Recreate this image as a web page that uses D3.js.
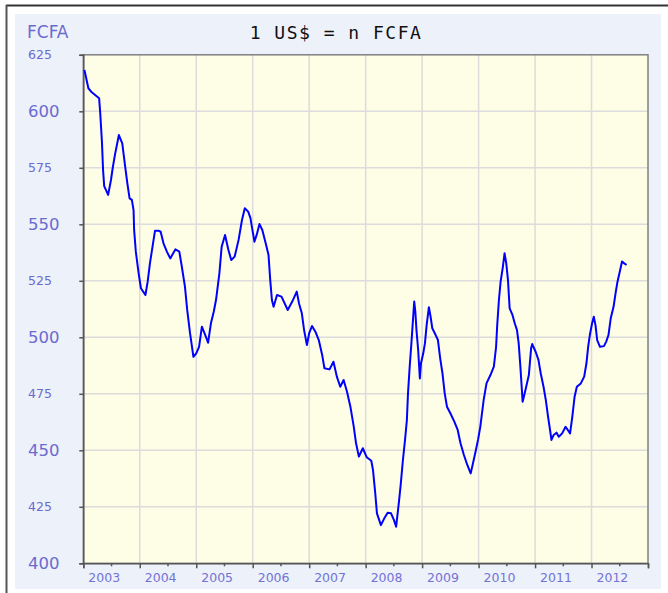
<!DOCTYPE html>
<html>
<head>
<meta charset="utf-8">
<script src="https://cdn.jsdelivr.net/npm/d3@7"></script>
<style>
  body { margin: 0; background: #fff; }
  svg { display: block; }
</style>
</head>
<body>
<div id="wrapper"></div>
<script>

// data: decimal year, FCFA per US$
const years = [
  2003.02, 2003.09, 2003.15, 2003.28, 2003.30, 2003.33, 2003.35, 2003.37, 2003.44, 2003.49,
  2003.52, 2003.56, 2003.63, 2003.69, 2003.74, 2003.78, 2003.82, 2003.86, 2003.89, 2003.90,
  2003.93, 2003.98, 2004.02, 2004.10, 2004.14, 2004.18, 2004.23, 2004.27, 2004.33, 2004.37,
  2004.42, 2004.48, 2004.54, 2004.63, 2004.70, 2004.74, 2004.80, 2004.84, 2004.89, 2004.95,
  2005.00, 2005.05, 2005.10, 2005.16, 2005.21, 2005.26, 2005.31, 2005.35, 2005.41, 2005.45,
  2005.51, 2005.57, 2005.62, 2005.68, 2005.75, 2005.81, 2005.86, 2005.92, 2005.96, 2006.03,
  2006.07, 2006.12, 2006.17, 2006.23, 2006.28, 2006.31, 2006.34, 2006.37, 2006.43, 2006.51,
  2006.62, 2006.70, 2006.78, 2006.82, 2006.87, 2006.91, 2006.96, 2007.00, 2007.05, 2007.11,
  2007.17, 2007.23, 2007.27, 2007.36, 2007.43, 2007.49, 2007.55, 2007.61, 2007.67, 2007.73,
  2007.79, 2007.83, 2007.88, 2007.95, 2008.02, 2008.10, 2008.13, 2008.17, 2008.20, 2008.27,
  2008.33, 2008.39, 2008.45, 2008.50, 2008.54, 2008.59, 2008.62, 2008.66, 2008.70, 2008.73,
  2008.75, 2008.78, 2008.81, 2008.83, 2008.86, 2008.88, 2008.90, 2008.93, 2008.96, 2008.98,
  2009.02, 2009.05, 2009.08, 2009.12, 2009.15, 2009.18, 2009.24, 2009.28, 2009.32, 2009.36,
  2009.40, 2009.44, 2009.50, 2009.57, 2009.63, 2009.68, 2009.74, 2009.80, 2009.86, 2009.90,
  2009.94, 2009.99, 2010.03, 2010.09, 2010.14, 2010.21, 2010.27, 2010.31, 2010.33, 2010.36,
  2010.39, 2010.43, 2010.46, 2010.49, 2010.52, 2010.55, 2010.60, 2010.64, 2010.68, 2010.71,
  2010.74, 2010.78, 2010.83, 2010.89, 2010.93, 2010.95, 2011.01, 2011.06, 2011.10, 2011.15,
  2011.19, 2011.23, 2011.27, 2011.29, 2011.33, 2011.38, 2011.42, 2011.48, 2011.54, 2011.58,
  2011.62, 2011.66, 2011.70, 2011.74, 2011.81, 2011.87, 2011.91, 2011.94, 2011.97, 2012.01,
  2012.04, 2012.07, 2012.10, 2012.15, 2012.22, 2012.26, 2012.30, 2012.34, 2012.39, 2012.43,
  2012.46, 2012.50, 2012.54, 2012.58, 2012.62,
]
const rates = [
  618.3, 610.2, 608.4, 605.8, 599.1, 586.5, 574.0, 566.9, 563.0, 569.6,
  574.8, 580.7, 589.5, 585.8, 575.8, 568.1, 561.5, 560.8, 556.3, 547.5,
  537.9, 528.3, 521.7, 518.7, 524.6, 532.7, 540.8, 547.2, 547.2, 546.7,
  541.6, 537.9, 534.9, 538.9, 537.9, 532.0, 522.4, 512.1, 501.8, 491.4,
  492.9, 495.8, 504.7, 501.0, 497.6, 506.2, 511.3, 516.5, 528.3, 540.1,
  545.3, 538.6, 534.2, 535.7, 543.1, 551.9, 557.1, 555.6, 552.7, 542.3,
  545.3, 550.1, 547.5, 541.6, 536.4, 525.4, 516.5, 513.5, 518.7, 518.0,
  512.1, 515.8, 520.2, 515.0, 510.6, 503.2, 496.6, 501.8, 505.0, 502.5,
  498.8, 492.2, 486.3, 485.8, 489.2, 482.6, 478.1, 481.1, 475.9, 469.3,
  460.4, 453.1, 447.2, 450.9, 446.9, 445.4, 441.3, 431.0, 422.1, 416.9,
  419.9, 422.4, 422.1, 419.2, 416.2, 427.3, 434.6, 445.7, 455.3, 463.4,
  475.2, 487.0, 497.3, 504.7, 515.8, 511.3, 503.2, 494.4, 481.8, 488.5,
  492.9, 497.3, 505.4, 513.3, 509.1, 504.0, 501.0, 498.8, 490.7, 484.1,
  475.2, 469.3, 466.4, 462.7, 459.0, 453.1, 447.9, 443.5, 439.8, 444.2,
  448.7, 454.6, 460.4, 472.3, 479.6, 483.3, 487.0, 495.8, 505.4, 516.5,
  524.6, 531.2, 537.2, 532.7, 525.4, 512.8, 509.9, 506.2, 503.2, 497.3,
  487.0, 471.5, 476.7, 483.3, 495.1, 497.0, 493.6, 490.0, 484.1, 478.1,
  472.3, 464.9, 458.2, 454.6, 456.8, 457.8, 456.0, 457.5, 460.4, 459.0,
  457.5, 464.9, 473.7, 478.1, 479.6, 482.6, 488.5, 495.8, 501.0, 506.2,
  509.1, 505.4, 498.8, 495.8, 496.1, 498.1, 501.0, 508.4, 513.5, 520.2,
  524.6, 529.0, 533.5, 532.7, 532.0,
]
const yearTicks = [2003, 2004, 2005, 2006, 2007, 2008, 2009, 2010, 2011, 2012, 2013]
const yTicks = [400, 425, 450, 475, 500, 525, 550, 575, 600, 625]
const title = "1 US$ = n FCFA"
const unitLabel = "FCFA"

const dataset = years.map((y, i) => ({ x: y, y: rates[i] }))

const width = 668
const height = 593
const plot = { left: 83.3, top: 54.8, right: 648, bottom: 563.3 }

const svg = d3.select("#wrapper")
  .append("svg")
    .attr("width", width)
    .attr("height", height)

// panel and frame
svg.append("rect")
    .attr("x", 15)
    .attr("y", 14)
    .attr("width", 646)
    .attr("height", 575)
    .attr("fill", "#edf1fa")
svg.append("line")
    .attr("x1", 6).attr("x2", width)
    .attr("y1", 5.5).attr("y2", 5.5)
    .attr("stroke", "#333")
    .attr("stroke-width", 2)
svg.append("line")
    .attr("x1", 6.5).attr("x2", 6.5)
    .attr("y1", 5).attr("y2", height)
    .attr("stroke", "#555")
    .attr("stroke-width", 2)

// scales
const xScale = d3.scaleLinear()
  .domain([2003, 2013])
  .range([plot.left, plot.right])
const yScale = d3.scaleLinear()
  .domain([400, 625])
  .range([plot.bottom, plot.top])

svg.append("rect")
    .attr("x", plot.left)
    .attr("y", plot.top)
    .attr("width", plot.right - plot.left)
    .attr("height", plot.bottom - plot.top)
    .attr("fill", "#fefde6")

// grid
svg.append("g")
  .selectAll("line")
  .data(yTicks.slice(1, -1))
  .join("line")
    .attr("x1", plot.left).attr("x2", plot.right)
    .attr("y1", d => yScale(d)).attr("y2", d => yScale(d))
    .attr("stroke", "#dcdcdc")
    .attr("stroke-width", 1.5)
svg.append("g")
  .selectAll("line")
  .data(yearTicks.slice(1, -1))
  .join("line")
    .attr("x1", d => xScale(d)).attr("x2", d => xScale(d))
    .attr("y1", plot.top).attr("y2", plot.bottom)
    .attr("stroke", "#dcdcdc")
    .attr("stroke-width", 1.5)

svg.append("rect")
    .attr("x", plot.left)
    .attr("y", plot.top)
    .attr("width", plot.right - plot.left)
    .attr("height", plot.bottom - plot.top)
    .attr("fill", "none")
    .attr("stroke", "#808080")
    .attr("stroke-width", 1.5)

// axes
const yAxis = svg.append("g")
    .attr("transform", `translate(${plot.left},0)`)
    .call(d3.axisLeft(yScale).tickValues(yTicks).tickSize(4).tickFormat(""))
yAxis.select(".domain").attr("stroke", "#555").attr("stroke-width", 1.5)
yAxis.selectAll(".tick line").attr("stroke", "#555").attr("stroke-width", 1.5)

svg.append("g")
  .selectAll("text")
  .data(yTicks)
  .join("text")
    .attr("x", 28)
    .attr("y", d => yScale(d))
    .attr("dy", d => d % 50 === 0 ? "0.36em" : "0.36em")
    .attr("fill", "#6b6bcf")
    .style("font-family", "DejaVu Sans, sans-serif")
    .style("font-size", d => d % 50 === 0 ? "16.5px" : "12.5px")
    .text(d => d)

const halfYears = d3.range(2003.5, 2013, 1)
const xAxis = svg.append("g")
    .attr("transform", `translate(0,${plot.bottom})`)
    .call(d3.axisBottom(xScale).tickValues(yearTicks).tickSize(5).tickFormat(""))
xAxis.select(".domain").attr("stroke", "#555").attr("stroke-width", 1.5)
xAxis.selectAll(".tick line").attr("stroke", "#555").attr("stroke-width", 1.5)

svg.append("g")
  .selectAll("line")
  .data(halfYears)
  .join("line")
    .attr("x1", d => xScale(d)).attr("x2", d => xScale(d))
    .attr("y1", plot.bottom).attr("y2", plot.bottom + 3)
    .attr("stroke", "#555")
    .attr("stroke-width", 1.5)

svg.append("g")
  .selectAll("text")
  .data(yearTicks.slice(0, -1))
  .join("text")
    .attr("x", d => xScale(d) + 5)
    .attr("y", plot.bottom + 19)
    .attr("fill", "#7373d6")
    .style("font-family", "DejaVu Sans, sans-serif")
    .style("font-size", "12.5px")
    .text(d => d)

// titles
svg.append("text")
    .attr("x", 27)
    .attr("y", 38)
    .attr("fill", "#6b6bcf")
    .style("font-family", "DejaVu Sans, sans-serif")
    .style("font-size", "17px")
    .text(unitLabel)

svg.append("text")
    .attr("x", 336)
    .attr("y", 39)
    .attr("text-anchor", "middle")
    .attr("fill", "#111")
    .style("font-family", "DejaVu Sans Mono, monospace")
    .style("font-size", "18px")
    .style("letter-spacing", "1.5px")
    .text(title)

// line
const lineGenerator = d3.line()
  .x(d => xScale(d.x))
  .y(d => yScale(d.y))

svg.append("path")
    .datum(dataset)
    .attr("d", lineGenerator)
    .attr("fill", "none")
    .attr("stroke", "#0000ff")
    .attr("stroke-width", 2)
    .attr("stroke-linejoin", "round")

</script>
</body>
</html>
